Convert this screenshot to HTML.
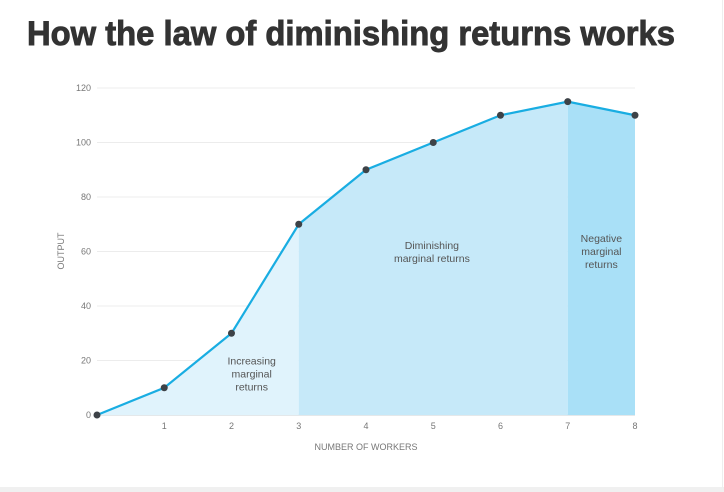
<!DOCTYPE html>
<html><head><meta charset="utf-8"><style>
html,body{margin:0;padding:0;background:#fff}
svg{display:block;font-family:"Liberation Sans",sans-serif}
</style></head><body>
<svg id="c" width="724" height="492">
<rect x="0" y="487" width="724" height="5" fill="#f0f0f0"/>
<line x1="722.5" y1="0" x2="722.5" y2="488" stroke="#eeeeee"/>
<text x="27" y="45" font-size="34" font-weight="bold" fill="#333" stroke="#333" stroke-width="0.9" textLength="648" lengthAdjust="spacingAndGlyphs">How the law of diminishing returns works</text>
<g id="grid"></g><g id="areas"></g><g id="marks"></g><g id="labels"></g>
<text transform="translate(64,251) rotate(-90)" text-anchor="middle" font-size="9" fill="#777">OUTPUT</text>
<text x="366" y="450" text-anchor="middle" font-size="9" fill="#777">NUMBER OF WORKERS</text>
</svg>
<script>
const workers=[0,1,2,3,4,5,6,7,8];
const output=[0,10,30,70,90,100,110,115,110];
const yTicks=[0,20,40,60,80,100,120];
const xTicks=[1,2,3,4,5,6,7,8];
const regions=[[0,3,'#e0f3fc','increasing'],[3,7,'#c6e9f9','diminishing'],[7,8,'#a9e0f7','negative']];
const regionText=[["Increasing","marginal","returns"],["Diminishing","marginal returns"],["Negative","marginal","returns"]];
const regionTextPos=[[2.3,18.5],[4.98,61],[7.5,63.5]];
const NS='http://www.w3.org/2000/svg';
const X=v=>97+v*67.25, Y=v=>415-v*2.725;
function mk(t,a,p){const e=document.createElementNS(NS,t);for(const k in a)e.setAttribute(k,a[k]);document.getElementById(p).appendChild(e);return e;}
yTicks.forEach(t=>{
 const l=mk('line',{x1:97,x2:635,y1:Y(t),y2:Y(t),stroke:t==0?'#c8d0d6':'#ececec','stroke-width':1},'grid');
 
 
 const s=mk('text',{x:91,y:Y(t)+3,'text-anchor':'end','font-size':9,fill:'#777'},'grid');s.textContent=t;
 
 
});
xTicks.forEach(t=>{
 const s=mk('text',{x:X(t),y:429,'text-anchor':'middle','font-size':9,fill:'#777'},'grid');s.textContent=t;
 
 
});
regions.forEach(r=>{
 let d='M'+X(r[0])+','+Y(0);
 for(let i=0;i<workers.length;i++) if(workers[i]>=r[0]&&workers[i]<=r[1]) d+=' L'+X(workers[i])+','+Y(output[i]);
 d+=' L'+X(r[1])+','+Y(0)+'Z';
 const p=mk('path',{d:d,fill:r[2]},'areas');
 
 
});
const pl=mk('polyline',{points:workers.map((w,i)=>X(w)+','+Y(output[i])).join(' '),fill:'none',stroke:'#19ade2','stroke-width':2.2},'marks');


workers.forEach((w,i)=>{
 const c=mk('circle',{cx:X(w),cy:Y(output[i]),r:3.5,fill:'#3d4247'},'marks');
 
 
});
regionText.forEach((lines,j)=>{
 const t=mk('text',{'text-anchor':'middle','font-size':10.5,fill:'#555'},'labels');
 
 
 lines.forEach((s,k)=>{const ts=document.createElementNS(NS,'tspan');ts.setAttribute('x',X(regionTextPos[j][0]));ts.setAttribute('y',Y(regionTextPos[j][1])+k*13);ts.textContent=s;t.appendChild(ts);});
});
</script>
</body></html>
